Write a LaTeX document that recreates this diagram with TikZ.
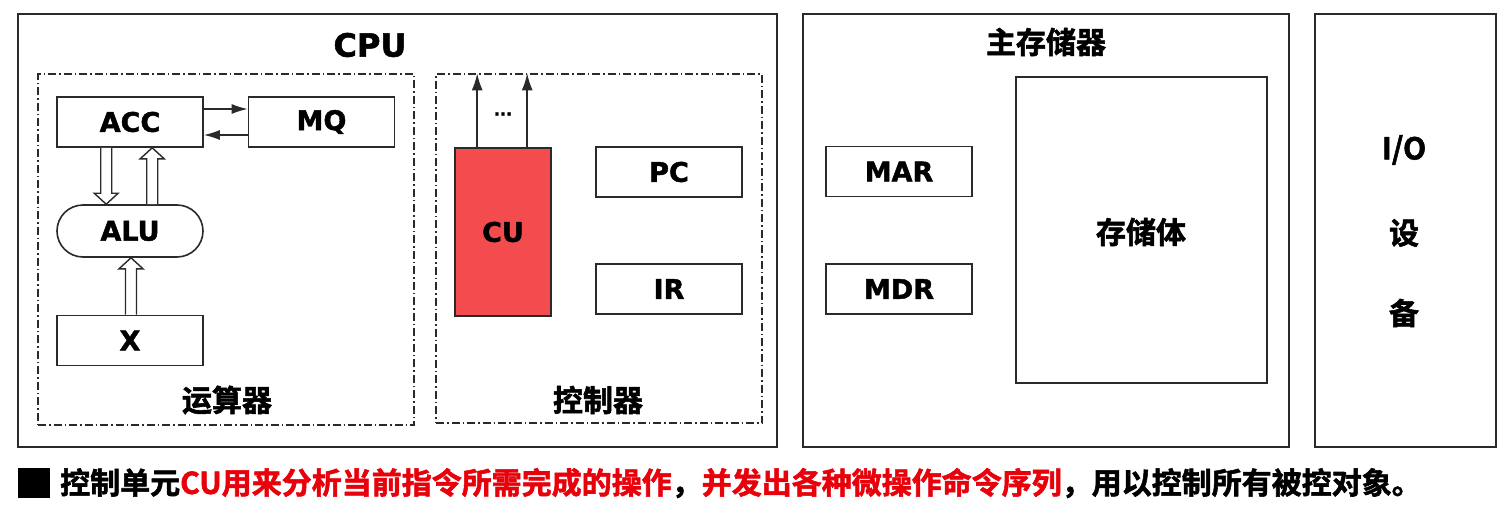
\documentclass[tikz,border=0pt]{standalone}
\usepackage{fontspec}
\setmainfont{DejaVu Sans}
\newfontfamily\lab{DejaVu Sans Bold}[FakeBold=1.6]
\newfontfamily\cjk{Noto Sans CJK SC Bold}[FakeBold=1.8]
\usetikzlibrary{arrows.meta,shapes.misc,calc}
\definecolor{cured}{HTML}{F44B4F}
\definecolor{txtred}{HTML}{E8000B}
\definecolor{ln}{HTML}{2A2A2A}
\begin{document}
\begin{tikzpicture}[x=1pt,y=-1pt,
 box/.style={draw=ln, line width=1.8pt, fill=white, inner sep=0pt},
 reg/.style={draw=ln, line width=1.6pt, inner sep=0pt, minimum width=146pt, minimum height=50pt, font=\lab\fontsize{27}{27}\selectfont},
 dashbox/.style={draw=ln, line width=1.3pt, dash pattern=on 8pt off 3pt on 1.5pt off 3pt, inner sep=0pt},
 cjkl/.style={font=\cjk\fontsize{30}{30}\selectfont, inner sep=0pt},
 thinarrow/.style={draw=ln, line width=1.5pt, -{Latex[length=16pt,width=10pt]}},
 cuarrow/.style={draw=ln, line width=1.7pt, -{Latex[length=17pt,width=11pt]}},
 hollow/.style={draw=ln, line width=1.4pt, fill=white, line join=miter}]

\useasboundingbox (0,0) rectangle (1509,511);
\fill[white] (0,0) rectangle (1509,511);

% outer boxes
\node[box, minimum width=759pt, minimum height=433pt] (cpu) at (397.5,230.5) {};
\node[box, minimum width=486pt, minimum height=433pt] (mem) at (1046,230.5) {};
\node[box, minimum width=181pt, minimum height=433pt] (io) at (1405.5,230.5) {};

% titles
\node[font=\lab\fontsize{32}{32}\selectfont, inner sep=0pt] (cputitle) at (370,45) {CPU};
\node[cjkl] (memtitle) at (1046,42) {主存储器};

% dashed sub-units
\node[dashbox, minimum width=376pt, minimum height=351pt] (alubox) at (226,249.5) {};
\node[dashbox, minimum width=326pt, minimum height=349pt] (ctrl) at (599,248.5) {};
\node[cjkl] (alulabel) at (227,400) {运算器};
\node[cjkl] (ctrllabel) at (598,400) {控制器};

% arithmetic unit
\node[reg] (acc) at (130,122) {ACC};
\node[reg] (mq) at (321.5,122) {MQ};
\node[reg, rounded rectangle, minimum height=52pt] (alu) at (130,231) {ALU};
\node[reg] (x) at (130,340.5) {X};

\draw[thinarrow] ($(acc.east)+(0,-13)$) -- ($(mq.west)+(0,-13)$);
\draw[thinarrow] ($(mq.west)+(0,13)$) -- ($(acc.east)+(0,13)$);

% hollow arrows
\draw[hollow] let \p1=($(acc.south west)+(50,0)$), \p2=(alu.north) in
  (\x1-5.5pt,\y1) -- (\x1-5.5pt,\y2+11pt) -- (\x1-12pt,\y2+11pt) -- (\x1,\y2)
  -- (\x1+12pt,\y2+11pt) -- (\x1+5.5pt,\y2+11pt) -- (\x1+5.5pt,\y1);
\draw[hollow] let \p1=($(acc.south west)+(96,0)$), \p2=(alu.north) in
  (\x1-5.5pt,\y2) -- (\x1-5.5pt,\y1-11pt) -- (\x1-12pt,\y1-11pt) -- (\x1,\y1)
  -- (\x1+12pt,\y1-11pt) -- (\x1+5.5pt,\y1-11pt) -- (\x1+5.5pt,\y2);
\draw[hollow] let \p1=($(alu.south)+(1,0)$), \p2=(x.north) in
  (\x1-5.5pt,\y2) -- (\x1-5.5pt,\y1-11pt) -- (\x1-12pt,\y1-11pt) -- (\x1,\y1)
  -- (\x1+12pt,\y1-11pt) -- (\x1+5.5pt,\y1-11pt) -- (\x1+5.5pt,\y2);

% control unit
\node[reg, fill=cured, minimum width=96pt, minimum height=168pt] (cu) at (503,232) {CU};
\node[reg] (pc) at (669,172) {PC};
\node[reg] (ir) at (669,289) {IR};
\coordinate (cu1) at ($(cu.north west)+(23,0)$);
\coordinate (cu2) at ($(cu.north west)+(73,0)$);
\draw[cuarrow] (cu1) -- (cu1 |- ctrl.north);
\draw[cuarrow] (cu2) -- (cu2 |- ctrl.north);
\node[font=\lab\fontsize{16}{16}\selectfont, inner sep=0pt] (dots) at (503,114) {...};

% main memory
\node[reg] (mar) at (899,171.5) {MAR};
\node[reg] (mdr) at (899,289) {MDR};
\node[draw=ln, line width=1.6pt, minimum width=251pt, minimum height=306pt, inner sep=0pt] (store) at (1141.5,230) {};
\node[cjkl] (storelabel) at (1141,232) {存储体};

% I/O
\node[cjkl] (iolabel) at (1404,150) {I/O};
\node[cjkl] (io2) at (1404,233) {设};
\node[cjkl] (io3) at (1404,313) {备};

% bottom note
\node[fill=black, minimum width=32pt, minimum height=30pt, inner sep=0pt] (sq) at (34,483) {};
\node[anchor=west, inner sep=0pt, font=\cjk\fontsize{30}{30}\selectfont] (note) at (60,483)
  {控制单元\textcolor{txtred}{CU用来分析当前指令所需完成的操作}，\textcolor{txtred}{并发出各种微操作命令序列}，用以控制所有被控对象。};
\end{tikzpicture}
\end{document}
